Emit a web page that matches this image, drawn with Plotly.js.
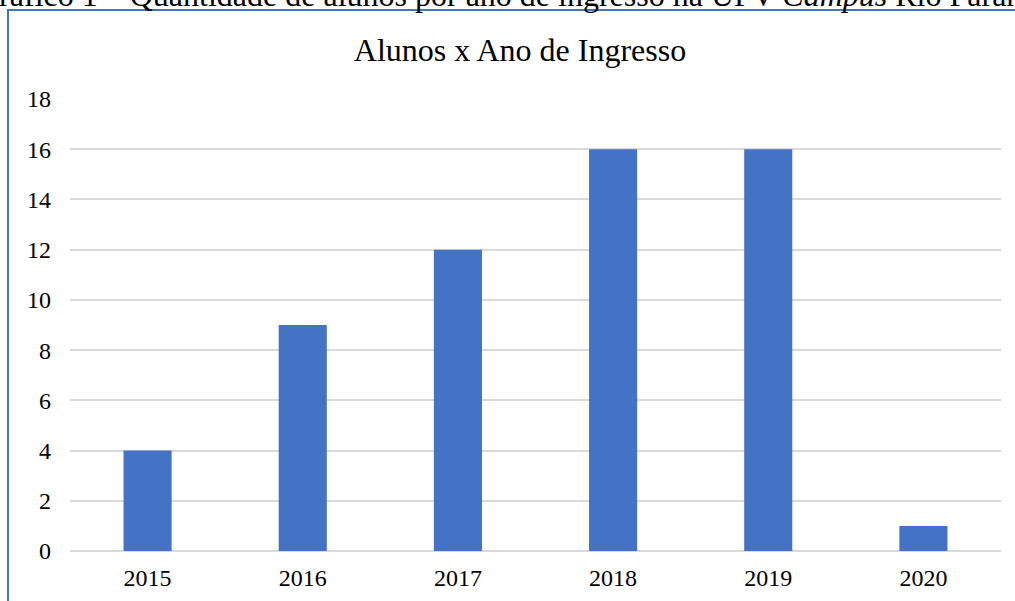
<!DOCTYPE html>
<html>
<head>
<meta charset="utf-8">
<script src="https://cdn.plot.ly/plotly-3.0.1.min.js"></script>
<style>html,body{margin:0;padding:0;background:#fff;}#chart{width:1015px;height:601px;}</style>
</head>
<body>
<div id="chart"></div>
<script>
const years = ["2015", "2016", "2017", "2018", "2019", "2020"];
const alunos = [4, 9, 12, 16, 16, 1];
const yTicks = [0, 2, 4, 6, 8, 10, 12, 14, 16, 18];
const chartTitle = "Alunos x Ano de Ingresso";
const caption = "Gráfico 1 – Quantidade de alunos por ano de ingresso na UFV <i>Campus</i> Rio Paranaíba";

const font = "'Liberation Serif', 'Times New Roman', serif";
const L = 70, R = 14, T = 99, B = 50, W = 1015, H = 601;
const pw = W - L - R, ph = H - T - B;
const px = x => (x - L) / pw;
const py = y => (H - B - y) / ph;

Plotly.newPlot('chart', [{
  type: 'bar',
  x: years,
  y: alunos,
  marker: {color: '#4472c4'},
  width: 0.31,
  hoverinfo: 'x+y'
}], {
  width: W, height: H,
  margin: {l: L, r: R, t: T, b: B, pad: 0},
  paper_bgcolor: '#ffffff',
  plot_bgcolor: '#ffffff',
  showlegend: false,
  font: {family: font, color: '#000000', size: 24},
  title: {
    text: chartTitle,
    font: {family: font, size: 32, color: '#000000'},
    x: 520 / W, xref: 'container', xanchor: 'center',
    y: 1 - 50 / H, yref: 'container', yanchor: 'middle'
  },
  xaxis: {
    type: 'category',
    showgrid: false,
    zeroline: false,
    showline: false,
    ticks: '',
    ticklabelstandoff: 10,
    tickfont: {family: font, size: 24, color: '#000000'},
    fixedrange: true
  },
  yaxis: {
    range: [0, 18],
    tickvals: yTicks,
    ticktext: yTicks.map(String),
    showgrid: true,
    gridcolor: '#d9d9d9',
    gridwidth: 1.5,
    zeroline: true,
    zerolinecolor: '#d9d9d9',
    zerolinewidth: 1.5,
    showline: false,
    ticks: '',
    ticklabelstandoff: 18,
    tickfont: {family: font, size: 24, color: '#000000'},
    fixedrange: true
  },
  annotations: [{
    text: caption,
    xref: 'paper', yref: 'paper',
    x: px(-26), xanchor: 'left',
    y: py(15), yanchor: 'bottom',
    showarrow: false,
    font: {family: font, size: 32, color: '#000000'}
  }],
  shapes: [{
    type: 'path',
    xref: 'paper', yref: 'paper',
    path: 'M ' + px(8) + ' ' + py(700) + ' L ' + px(8) + ' ' + py(10) + ' L ' + px(1100) + ' ' + py(10),
    line: {color: '#4472c4', width: 2}
  }]
}, {displayModeBar: false});
</script>
</body>
</html>
